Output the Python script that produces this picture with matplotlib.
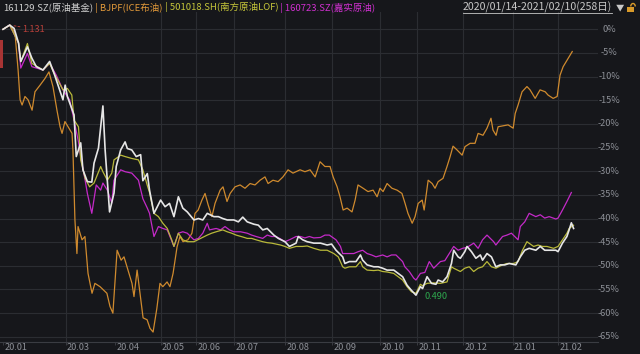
import matplotlib
matplotlib.use("Agg")
import matplotlib.pyplot as plt
from matplotlib.patches import Rectangle, Arc
from matplotlib.transforms import blended_transform_factory
import numpy as np

plt.rcParams['font.family'] = ['Noto Sans CJK SC', 'DejaVu Sans']

# ---------------- data (trading-day index, cumulative return %) ----------------
wx = [0,3,5,7,8,9,11,13,15,18,21,23,27,28,29,32,33,35,36,38,40,41,43,45,46,47,48,50,51,53,
      55,56,58,60,62,63,65,66,68,71,73,75,77,79,81,83,86,88,90,92,95,97,99,101,104,106,108,110,113,115,
      117,119,122,124,127,129,132,133,135,137,140,143,146,148,150,153,154,156,159,161,162,164,167,169,171,173,176,178,180,182,
      184,186,188,189,191,193,195,196,198,200,202,203,205,206,208,209,211,213,215,216,218,220,222,224,226,228,231,233,235,237,
      240,242,244,246,249,250,252,254,255,256,257]
wy = [0,0.9,0.2,-2.9,-6.8,-5.8,-3.7,-6.1,-7.9,-8.6,-6.8,-9.3,-14.9,-11.8,-14.2,-18.1,-26.9,-24,-29.7,-32.2,
      -32.3,-28.3,-25.1,-16.2,-25.5,-31.9,-38.6,-34.6,-29,-25.5,-23.8,-25.2,-25.5,-26.9,-26.5,-32,-30.5,-34,-38.9,-36.1,
      -37.5,-36.8,-39.6,-35.4,-37.8,-38.6,-40.3,-40,-40.3,-38.9,-39.6,-39.6,-40,-40.3,-40.3,-40.7,-39.7,-40.7,-41.2,-41.4,
      -42.4,-42.1,-43.5,-44.2,-44.9,-45.9,-45.2,-43.8,-44.5,-44.9,-45.2,-45.2,-45.6,-45.4,-46.7,-48.1,-49.5,-49.1,-49.1,-47.7,
      -48.8,-49.8,-50.2,-50.2,-50.5,-50.9,-50.9,-51.6,-52.3,-54.1,-55.2,-56.2,-54.4,-54.8,-52.3,-53.7,-53.9,-53,-53.4,-52.3,
      -49.5,-46.7,-48.1,-48.4,-47,-45.9,-47,-48.4,-47.7,-48.8,-47.4,-48.1,-50.2,-49.8,-49.8,-49.5,-49.8,-48.1,-46.7,-46.3,
      -46.7,-45.9,-46.7,-46.7,-46.7,-47,-45.2,-43.8,-42.4,-40.9,-42.1]

yx = [0,3,7,8,11,13,18,21,23,27,29,31,32,34,35,37,39,41,44,45,47,49,50,53,55,58,61,63,65,66,
      68,70,72,74,76,77,79,81,83,86,89,92,94,96,99,101,103,105,108,110,112,114,117,119,121,123,125,127,129,132,
      135,137,140,143,146,149,151,153,154,156,159,161,162,164,167,169,171,173,176,178,180,182,184,186,188,189,191,194,197,200,
      202,203,206,208,210,212,214,216,218,220,222,225,227,230,232,234,236,239,241,243,245,248,250,252,254,255,257]
yy = [0,0.9,-2.9,-6.8,-3.0,-7.2,-8.6,-7.2,-9.3,-12.8,-12.5,-13.9,-19.2,-20.6,-27.6,-31.5,-33.3,-32.5,-29,-30.1,
      -31.9,-30.4,-27.6,-26.6,-26.9,-27.3,-27.6,-29.7,-33,-34.5,-38.9,-39.6,-41,-42.1,-44.5,-45.9,-43.1,-44.5,-44.9,-44.9,
      -44.2,-43.5,-43.1,-42.8,-42.4,-42.8,-43.1,-43.5,-43.9,-44.2,-44.2,-44.5,-44.9,-45.1,-45.2,-45.4,-45.6,-45.9,-46.3,-45.9,
      -45.9,-45.8,-46.3,-46.7,-46.7,-47.4,-48.1,-50.2,-50.5,-50.2,-50.2,-49.1,-50.2,-50.9,-51,-50.9,-51.2,-51.3,-51.6,-52.3,
      -53,-54.4,-55.5,-55.8,-53.9,-54.2,-53.7,-53.6,-53.7,-53.4,-50.2,-50.5,-51.2,-50.5,-50.2,-51.2,-50.5,-50.2,-49.1,-50.2,
      -50.5,-49.8,-49.5,-49.5,-49.1,-46.7,-44.9,-45.9,-45.6,-45.9,-45.9,-46.3,-45.9,-44.5,-43.1,-42.1,-41.4]

mx = [0,3,7,8,11,13,18,21,24,27,30,32,34,35,37,38,40,42,44,45,47,49,50,53,55,58,61,63,65,66,
      68,70,72,74,77,79,81,83,86,88,90,92,93,96,98,100,102,104,107,110,112,114,117,119,121,123,125,127,129,132,
      134,136,138,140,143,145,147,150,152,153,155,158,160,162,164,166,168,171,173,175,177,180,181,183,185,186,188,190,192,194,
      197,199,201,203,205,207,209,212,214,216,218,221,222,225,227,229,232,233,235,237,240,242,244,246,249,250,252,254,256]
my = [0,0.9,-2.9,-8.2,-5.1,-7.9,-8.6,-7.2,-9.7,-12.8,-14.9,-19.2,-23.8,-26.9,-31.9,-34.7,-38.9,-32.9,-34,-32.5,
      -34,-36.7,-31.9,-29.7,-30.1,-30.4,-31.9,-35.8,-37.8,-38.9,-43.8,-41.7,-42.1,-42.4,-45.9,-43.1,-42.8,-43.1,-44.5,-44.2,
      -43.1,-41,-42.4,-42.1,-42.4,-41.7,-42.4,-42.8,-42.8,-43.1,-43.5,-43.8,-44.2,-43.5,-43.8,-43.8,-44.3,-44.9,-44.5,-43.8,
      -43.8,-44.1,-43.8,-44.1,-44,-43.5,-43.5,-44.5,-45.9,-47.4,-47.4,-47.4,-47,-46.7,-47.4,-47.7,-48.1,-47.7,-48.1,-47.7,
      -47.7,-49.1,-50.2,-51.2,-52.6,-53,-51.6,-51.4,-49.1,-50.5,-49.1,-48.9,-47.4,-45.9,-46.7,-46.3,-46.1,-45.2,-46.3,-44.5,
      -43.5,-44.9,-45.6,-43.8,-43.5,-43.1,-44.5,-41.7,-40.7,-38.9,-39.6,-39.2,-39.9,-39.6,-40.1,-39.9,-38.2,-36.4,-34.5]

ox = [0,3.2,5.4,6.8,7.7,8.6,9.9,11.3,13.1,14.4,16.7,18.9,20.7,22.5,24.3,25.7,26.6,27.9,29.3,31.1,
      31.5,32.4,33.3,33.8,35.6,36.9,38.3,40.1,41.4,43.7,46.8,48.2,49.5,51.4,53.2,54.5,56.3,58.1,59,60.4,
      61.7,63.1,64.9,66.2,67.6,69.3,70.7,72,73.9,75.2,76.6,78.4,79.7,81.1,83.3,85.1,86.5,87.9,89.6,91,
      92.4,94.1,95.5,97.8,99.1,100.9,102.3,104.5,106.8,109,111.3,113.5,115.8,118,119.4,121.6,123.9,126.1,128.4,130.6,
      133.8,136,138.3,140.6,142.8,145,147.3,148.7,150.5,151.8,153.2,155,157.2,158.6,159.9,162.2,164.4,166.7,168.5,169.8,
      171.2,173,175.2,177.5,179.7,181.1,182.4,184.3,185.6,187,188.8,189.7,191.5,193.3,194.6,196,198.2,200,201.4,202.7,
      204.5,206.8,208.1,210.4,212.6,214,216.2,218,219.8,220.7,222.1,223,225.2,227.5,229.8,230.7,232,233.8,236,237.4,
      239.7,241.9,244.2,245.5,247.8,249.6,250.9,252.3,254.1,256.4]
oy = [0,0.9,-0.8,-8.6,-14.9,-16,-14.2,-14.9,-17.1,-13.2,-11.8,-10.4,-9,-12.1,-17.1,-20.6,-22,-19.5,-20.6,-22,
      -25.5,-40.3,-47.4,-41.7,-44.5,-43.8,-51.6,-55.8,-53.7,-54.4,-55.8,-58.6,-60,-46.7,-48.8,-48.1,-50.9,-53.7,-56.5,-50.9,
      -55.8,-61,-61.4,-63.2,-64,-59,-53.7,-54.4,-53.4,-54.4,-51.6,-46,-43.8,-44.9,-44.5,-43.1,-38.9,-38.2,-36.1,-34.7,
      -37.1,-39.6,-36.8,-34,-33.3,-36.4,-34.7,-33.3,-32.9,-33.6,-32.6,-32.9,-31.9,-31.2,-32.6,-31.9,-32.2,-31.2,-29.7,-30.4,
      -29.7,-30.1,-29.7,-31.2,-28,-29,-29,-31.2,-33.3,-35.4,-38.2,-37.8,-38.6,-36.1,-32.9,-33.6,-34.3,-34,-35.4,-33.6,
      -34.3,-32.6,-33.6,-34,-34.7,-36.8,-38.9,-41,-39.6,-36.8,-36.1,-38.2,-31.9,-32.6,-33.6,-32.2,-31.5,-29,-26.9,-24.7,
      -25.5,-26.6,-24.8,-24.1,-24.1,-22,-22.4,-20.9,-18.8,-21.3,-22.4,-20.6,-20.4,-20.2,-20.9,-17.8,-16,-13.2,-12.1,-12.8,
      -14.6,-12.8,-13.2,-13.9,-14.6,-14.2,-9.7,-7.9,-6.5,-4.7]

series_names = ["161129.SZ(原油基金)", "BJPF(ICE布油)", "501018.SH(南方原油LOF)", "160723.SZ(嘉实原油)"]
month_labels = ["20.01", "20.03", "20.04", "20.05", "20.06", "20.07", "20.08", "20.09",
                "20.10", "20.11", "20.12", "21.01", "21.02"]
month_pos = [0, 28.2, 50.5, 71, 86.9, 104.1, 127, 148.1, 169.8, 186.4, 207.1, 229.6, 250.1]
grid_months = [28.2, 71, 86.9, 104.1, 127, 148.1, 169.8, 186.4, 207.1, 229.6, 250.1]
y_ticks = [0, -5, -10, -15, -20, -25, -30, -35, -40, -45, -50, -55, -60, -65]
max_label, min_label = "1.131", "0.490"
period_text = "2020/01/14-2021/02/10(258日)"

# ---------------- style ----------------
BG = "#16171b"
GRID = "#2b2d32"
TXT = "#8c8f96"
C_WHITE = "#e6e6e6"
C_ORANGE = "#cf8a2e"
C_YELLOW = "#b9b93a"
C_MAGENTA = "#c42ac8"
H_COLORS = ["#cfcfcf", "#e39a3a", "#c6c63a", "#d030d0"]

W, H = 640, 354
fig = plt.figure(figsize=(W / 100, H / 100), dpi=100, facecolor=BG)
top_px, bot_px, right_px = 12, 342, 598
ax = fig.add_axes([0, 1 - bot_px / H, right_px / W, (bot_px - top_px) / H])
ax.set_facecolor(BG)

ax.set_xlim(-1.35, 268.0)
ax.set_ylim(-66.1, 3.66)

for v in y_ticks:
    ax.axhline(v, color=GRID, lw=0.8, zorder=0)
for m in grid_months:
    ax.axvline(m, color=GRID, lw=0.8, zorder=0)

for s in ["top", "right", "left"]:
    ax.spines[s].set_visible(False)
ax.spines["bottom"].set_color("#3a3c42")
ax.spines["bottom"].set_linewidth(0.8)
ax.set_yticks([])
ax.set_xticks(month_pos)
ax.set_xticklabels([])
ax.tick_params(axis="x", direction="out", length=2.5, color="#3a3c42", width=0.7)

ax.plot(ox, oy, color=C_ORANGE, lw=0.9, zorder=2)
ax.plot(mx, my, color=C_MAGENTA, lw=0.9, zorder=3)
ax.plot(yx, yy, color=C_YELLOW, lw=0.9, zorder=4)
ax.plot(wx, wy, color=C_WHITE, lw=1.2, zorder=5)

# right-side percentage labels
tr = blended_transform_factory(ax.transAxes, ax.transData)
for v in y_ticks:
    ax.text(609 / right_px, v, f"{v}%", transform=tr, ha="center", va="center",
            fontsize=6.6, color=TXT, clip_on=False)

# month labels
trx = blended_transform_factory(ax.transData, ax.transAxes)
for p, lab in zip(month_pos, month_labels):
    ax.text(p + 0.6, -6 / (bot_px - top_px), lab, transform=trx, ha="left", va="center",
            fontsize=6.6, color=TXT, clip_on=False)

# max / min labels of the main fund
imax = int(np.argmax(wy))
imin = int(np.argmin(wy))
ax.annotate(max_label, xy=(wx[imax], wy[imax]), xytext=(13, -4), textcoords="offset pixels",
            color="#b8403a", fontsize=6.6, va="center", ha="left",
            arrowprops=dict(arrowstyle="-", color="#b8403a", lw=0.7, linestyle=(0, (2, 2)),
                            shrinkA=0, shrinkB=2))
ax.annotate(min_label, xy=(wx[imin], wy[imin]), xytext=(9, -1), textcoords="offset pixels",
            color="#2ea84e", fontsize=6.6, va="center", ha="left")

# small red marker at left edge
fig.add_artist(Rectangle((0, 1 - 68 / H), 3 / W, 28 / H, transform=fig.transFigure,
                         facecolor="#a83434", edgecolor="none"))

# header with series names
fig.canvas.draw()
renderer = fig.canvas.get_renderer()
xcur = 3
hy = 1 - 7.5 / H
for i, (name, col) in enumerate(zip(series_names, H_COLORS)):
    label = name if i == 0 else " | " + name
    t = fig.text(xcur / W, hy, label, color=col, fontsize=6.8, ha="left", va="center")
    bb = t.get_window_extent(renderer)
    xcur = bb.x1

t = fig.text(612 / W, hy, period_text, color="#c8c8c8", fontsize=7.6, ha="right", va="center")
bb = t.get_window_extent(renderer)
fig.add_artist(plt.Line2D([bb.x0 / W, bb.x1 / W], [(bb.y0 + 0.5) / H] * 2,
                          color="#c8c8c8", lw=0.6, transform=fig.transFigure))
fig.text(620 / W, hy, "▼", color="#c8c8c8", fontsize=6, ha="center", va="center")
# lock icon
fig.add_artist(Rectangle((627 / W, 1 - 12 / H), 7 / W, 5 / H, transform=fig.transFigure,
                         facecolor="#d89a2a", edgecolor="none"))
fig.add_artist(Arc((633 / W, 1 - 6.5 / H), 4.5 / W, 6 / H, theta1=0, theta2=180,
                   transform=fig.transFigure, color="#d89a2a", lw=1))

fig.savefig("out.png", dpi=100, facecolor=BG)
